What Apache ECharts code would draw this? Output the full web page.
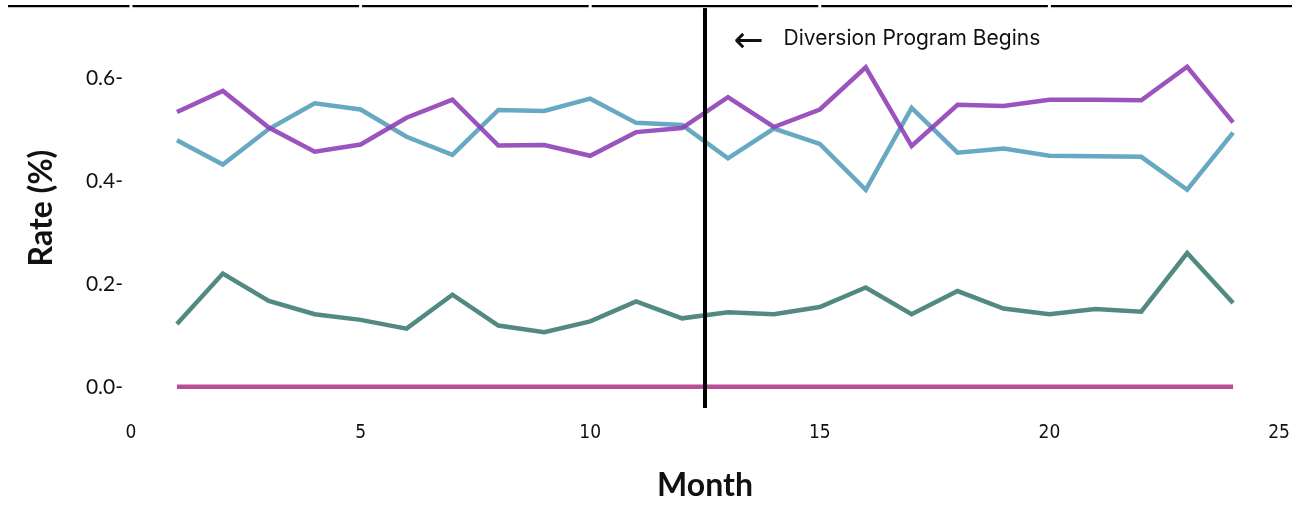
<!DOCTYPE html>
<html>
<head>
<meta charset="utf-8">
<script src="https://cdn.jsdelivr.net/npm/echarts@6/dist/echarts.min.js"></script>
<style>html,body{margin:0;padding:0;background:#fff;}#c{width:1300px;height:507px;}</style>
</head>
<body>
<div id="c"></div>
<script>
const months = [1,2,3,4,5,6,7,8,9,10,11,12,13,14,15,16,17,18,19,20,21,22,23,24];
const purpleSeries = [0.534,0.575,0.504,0.457,0.471,0.523,0.558,0.469,0.470,0.449,0.495,0.503,0.563,0.505,0.539,0.621,0.468,0.548,0.546,0.558,0.558,0.557,0.622,0.514];
const blueSeries   = [0.479,0.432,0.501,0.551,0.539,0.486,0.451,0.538,0.536,0.560,0.513,0.509,0.444,0.502,0.472,0.383,0.542,0.455,0.463,0.449,0.448,0.447,0.383,0.494];
const greenSeries  = [0.122,0.220,0.167,0.141,0.130,0.113,0.179,0.119,0.106,0.127,0.166,0.133,0.145,0.141,0.155,0.193,0.141,0.186,0.152,0.141,0.151,0.146,0.260,0.163];
const pinkSeries   = [0,0,0,0,0,0,0,0,0,0,0,0,0,0,0,0,0,0,0,0,0,0,0,0];
const yTickValues = [0, 0.2, 0.4, 0.6];
const xTickValues = [0, 5, 10, 15, 20];
const programStart = 12.5;
const annotationText = 'Diversion Program Begins';

const pairs = arr => months.map((m, i) => [m, arr[i]]);
const chart = echarts.init(document.getElementById('c'), null, {renderer: 'canvas'});

function lineSeries(name, data, color, extra) {
  return Object.assign({
    name, type: 'line', data: pairs(data), symbol: 'none',
    lineStyle: {color, width: 4.5, opacity: 0.9, join: 'miter'},
    itemStyle: {color}, silent: true, animation: false
  }, extra || {});
}

const narrow = "'DejaVu Sans Condensed', 'Liberation Sans Narrow', Lato, sans-serif";

chart.setOption({
  animation: false,
  grid: {left: 131, right: 21, top: 8, bottom: 94, containLabel: false},
  xAxis: {
    type: 'value', min: 0, max: 25, interval: 5,
    axisLine: {show: false}, axisTick: {show: false}, splitLine: {show: false},
    axisLabel: {color: '#111', fontFamily: narrow, fontSize: 19, margin: 16},
    name: 'Month', nameLocation: 'middle', nameGap: 62,
    nameTextStyle: {color: '#111', fontFamily: 'Lato', fontWeight: 'bold', fontSize: 32}
  },
  yAxis: {
    type: 'value', min: -0.0413, max: 0.7363,
    axisLine: {show: false}, axisTick: {show: false}, splitLine: {show: false},
    axisLabel: {
      customValues: yTickValues, color: '#111', fontFamily: 'Lato', fontSize: 21, margin: 8,
      formatter: v => v.toFixed(1) + '-'
    },
    name: 'Rate (%)', nameLocation: 'middle', nameGap: 73, nameRotate: 90,
    nameTextStyle: {color: '#111', fontFamily: 'Lato', fontWeight: 'bold', fontSize: 32}
  },
  series: [
    lineSeries('pink', pinkSeries, '#b13b8d'),
    lineSeries('green', greenSeries, '#3f7d75'),
    lineSeries('blue', blueSeries, '#569ebb'),
    lineSeries('purple', purpleSeries, '#9040b6', {
      markLine: {
        silent: true, symbol: 'none', animation: false,
        lineStyle: {color: '#000', width: 4, type: 'solid', opacity: 1},
        label: {show: false},
        data: [{xAxis: programStart}]
      },
      markPoint: {
        silent: true, animation: false, symbol: 'circle', symbolSize: 1,
        itemStyle: {color: 'rgba(0,0,0,0)'},
        data: [
          {coord: [13.45, 0.668],
           label: {show: true, formatter: '←', color: '#111', fontFamily: 'DejaVu Sans', fontSize: 36, position: 'inside'}},
          {coord: [14.2, 0.677],
           label: {show: true, formatter: annotationText, color: '#111', fontFamily: 'Inter', fontSize: 21,
                   position: 'right', distance: 0, align: 'left', letterSpacing: -0.9}}
        ]
      }
    })
  ]
});

// top rule with small gaps at the x tick positions
const gapXs = xTickValues.map(v => chart.convertToPixel({xAxisIndex: 0}, v));
const ruleY = 6;
const ruleLeft = 8, ruleRight = 1292, gap = 1.5;
const edges = [ruleLeft].concat(...gapXs.map(g => [g - gap, g + gap]), [ruleRight]);
const rules = [];
for (let i = 0; i < edges.length; i += 2) {
  rules.push({type: 'line', silent: true, z: 10,
    shape: {x1: edges[i], y1: ruleY + 1.6, x2: edges[i + 1], y2: ruleY + 1.6},
    style: {stroke: '#bbbbbb', lineWidth: 1}});
  rules.push({type: 'line', silent: true, z: 11,
    shape: {x1: edges[i], y1: ruleY, x2: edges[i + 1], y2: ruleY},
    style: {stroke: '#000', lineWidth: 2}});
}
chart.setOption({graphic: rules});
</script>
</body>
</html>
